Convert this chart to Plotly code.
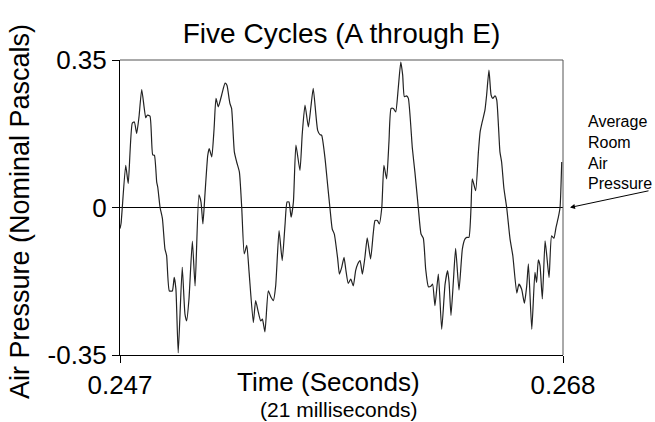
import plotly.graph_objects as go

# time offset after 0.247 s, in milliseconds
t_ms = [0.0, 0.05, 0.27, 0.39, 0.58, 0.68, 0.79, 0.90, 1.03, 1.22, 1.29, 1.42, 1.55, 1.63, 1.74, 1.79,
        1.90, 2.01, 2.13, 2.21, 2.34, 2.48, 2.57, 2.65, 2.76, 2.95, 3.08, 3.16, 3.27, 3.43, 3.56,
        3.74, 3.84, 3.93, 4.03, 4.16, 4.23, 4.35, 4.46, 4.55, 4.66, 4.82, 4.98, 5.07, 5.17, 5.21,
        5.29, 5.42, 5.53, 5.66, 5.77, 5.89, 6.01, 6.12, 6.32, 6.43, 6.56, 6.67, 6.75, 6.87, 7.03,
        7.16, 7.27, 7.38, 7.54, 7.69, 7.82, 7.92, 8.01, 8.11, 8.22, 8.34, 8.53, 8.64, 8.77, 8.93,
        9.05, 9.16, 9.37, 9.48, 9.56, 9.72, 9.83, 9.95, 10.06, 10.16, 10.32, 10.40, 10.51, 10.62,
        10.70, 10.82, 10.94, 11.06, 11.17, 11.27, 11.38, 11.49, 11.61, 11.72, 11.88, 12.01, 12.09,
        12.20, 12.29, 12.41, 12.51, 12.64, 12.75, 12.85, 12.96, 13.07, 13.19, 13.31, 13.40, 13.48,
        13.59, 13.67, 13.86, 13.98, 14.14, 14.27, 14.38, 14.49, 14.62, 14.73, 14.82, 14.93, 15.09,
        15.25, 15.41, 15.53, 15.60, 15.69, 15.80, 15.91, 16.07, 16.23, 16.35, 16.44, 16.54, 16.64,
        16.70, 16.86, 16.99, 17.07, 17.17, 17.30, 17.38, 17.49, 17.59, 17.67, 17.78, 17.86, 18.01,
        18.09, 18.20, 18.33, 18.49, 18.62, 18.81, 18.91, 19.04, 19.17, 19.28, 19.36, 19.52, 19.67,
        19.75, 19.83, 19.91, 20.02, 20.15, 20.23, 20.34, 20.46, 20.57, 20.67, 20.78, 20.86, 20.94]

pressure = [-0.05, -0.038, 0.10, 0.057, 0.20, 0.203, 0.176, 0.215, 0.28, 0.213, 0.219, 0.217, 0.125, 0.124, 0.06, 0.048,
            0.0, -0.026, -0.098, -0.114, -0.198, -0.198, -0.166, -0.193, -0.345, -0.142, -0.253, -0.269, -0.217, -0.080, -0.186,
            0.030, 0.013, -0.039, 0.033, 0.124, 0.140, 0.12, 0.187, 0.259, 0.239, 0.267, 0.295, 0.290, 0.259, 0.247,
            0.235, 0.132, 0.108, 0.084, 0.0, -0.110, -0.090, -0.154, -0.273, -0.221, -0.249, -0.269, -0.265, -0.295, -0.198,
            -0.213, -0.221, -0.186, -0.055, -0.126, -0.043, 0.013, 0.013, -0.023, 0.013, 0.148, 0.088, 0.175, 0.243, 0.191,
            0.239, 0.283, 0.183, 0.173, 0.171, 0.116, 0.06, 0.0, -0.051, -0.063, -0.122, -0.158, -0.142, -0.118,
            -0.146, -0.180, -0.170, -0.186, -0.150, -0.134, -0.126, -0.158, -0.118, -0.072, -0.122, -0.059, -0.031,
            -0.031, -0.039, 0.0, 0.1, 0.068, 0.156, 0.235, 0.235, 0.227, 0.283, 0.345, 0.314, 0.263,
            0.265, 0.259, 0.140, 0.084, 0.0, -0.063, -0.073, -0.146, -0.188, -0.187, -0.182, -0.233, -0.158,
            -0.289, -0.182, -0.150, -0.178, -0.256, -0.178, -0.097, -0.196, -0.098, -0.075, -0.071, -0.071, 0.0,
            0.068, 0.040, 0.132, 0.179, 0.203, 0.231, 0.267, 0.326, 0.267, 0.259, 0.265, 0.255, 0.132,
            0.108, 0.045, 0.0, -0.075, -0.114, -0.203, -0.182, -0.194, -0.227, -0.186, -0.134, -0.289, -0.154,
            -0.178, -0.124, -0.138, -0.217, -0.079, -0.114, -0.166, -0.067, -0.073, -0.047, -0.023, 0.0, 0.108]

t_start = 0.247
t_end = 0.268
x_ticks = [0.247, 0.268]
x_tick_labels = ["0.247", "0.268"]
y_ticks = [-0.35, 0, 0.35]
y_tick_labels = ["-0.35", "0", "0.35"]

time_s = [t_start + v / 1000.0 for v in t_ms]

FONT = "Liberation Sans, Arial, Helvetica, sans-serif"

fig = go.Figure()
fig.add_trace(go.Scatter(x=time_s, y=pressure, mode="lines",
                         line=dict(color="#222222", width=1.2, shape="spline", smoothing=0.5),
                         showlegend=False, hoverinfo="skip"))

fig.update_layout(
    width=655, height=422,
    margin=dict(l=120, r=92, t=60, b=67),
    paper_bgcolor="white", plot_bgcolor="white",
    font=dict(family=FONT, color="black", size=26),
    title=dict(text="Five Cycles (A through E)", x=(341.5) / 655, xanchor="center",
               y=(422 - 33) / 422, yanchor="middle", font=dict(size=28, family=FONT, color="black")),
    xaxis=dict(range=[t_start, t_end], tickvals=x_ticks, ticktext=x_tick_labels,
               showgrid=False, zeroline=False, showline=True, linecolor="black", linewidth=1,
               ticks="outside", ticklen=7, tickcolor="black", tickfont=dict(size=26)),
    yaxis=dict(range=[-0.35, 0.35], tickvals=y_ticks, ticktext=y_tick_labels,
               showgrid=False, zeroline=True, zerolinecolor="black", zerolinewidth=1,
               showline=True, linecolor="black", linewidth=1,
               ticks="outside", ticklen=7, tickcolor="black", tickfont=dict(size=26)),
    shapes=[
        dict(type="line", xref="paper", yref="paper", x0=0, x1=1, y0=1, y1=1,
             line=dict(color="#555555", width=1)),
        dict(type="line", xref="paper", yref="paper", x0=1, x1=1, y0=0, y1=1,
             line=dict(color="#555555", width=1)),
    ],
    annotations=[
        dict(text="Time (Seconds)", xref="paper", yref="paper", x=(328.5 - 120) / 443,
             y=(355 - 382) / 295, xanchor="center", yanchor="middle", showarrow=False,
             font=dict(size=26, family=FONT, color="black")),
        dict(text="(21 milliseconds)", xref="paper", yref="paper", x=(338.5 - 120) / 443,
             y=(355 - 409) / 295, xanchor="center", yanchor="middle", showarrow=False,
             font=dict(size=21, family=FONT, color="black")),
        dict(text="Air Pressure (Nominal Pascals)", xref="paper", yref="paper",
             x=(20 - 120) / 443, y=(355 - 212) / 295, xanchor="center", yanchor="middle",
             textangle=-90, showarrow=False, font=dict(size=27, family=FONT, color="black")),
        dict(text="Average<br>Room<br>Air<br>Pressure", xref="paper", yref="paper",
             x=(586 - 120) / 443, y=(355 - 152) / 295, xanchor="left", yanchor="middle",
             align="left", showarrow=False, font=dict(size=16, family=FONT, color="black")),
        dict(text="", xref="paper", yref="y", x=(570 - 120) / 443, y=0,
             ax=80, ay=-17, showarrow=True, arrowhead=2, arrowsize=1, arrowwidth=1,
             arrowcolor="black"),
    ],
)

fig.write_html("out.html")
